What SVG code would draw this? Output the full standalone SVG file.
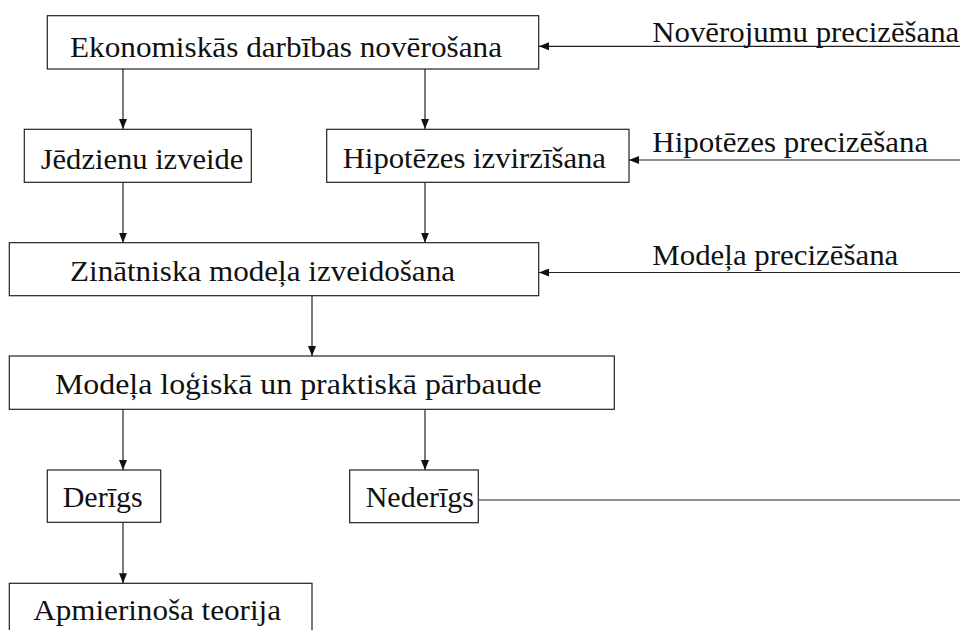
<svg xmlns="http://www.w3.org/2000/svg" width="960" height="630" viewBox="0 0 960 630" font-family="Liberation Serif, serif">
<style>
.box{fill:#fff;stroke:#222;stroke-width:1.2}
.c{fill:none;stroke:#222;stroke-width:1.2}
</style>
<defs>
<marker id="ah" viewBox="0 0 10 8" refX="10" refY="4" markerWidth="10" markerHeight="8" markerUnits="userSpaceOnUse" orient="auto">
<path d="M0,0 L10,4 L0,8 z" fill="#111"/>
</marker>
</defs>
<rect width="960" height="630" fill="#fff"/>
<g id="connectors">
<line class="c" x1="123" y1="69" x2="123" y2="129" marker-end="url(#ah)"/>
<line class="c" x1="425" y1="69" x2="425" y2="129" marker-end="url(#ah)"/>
<line class="c" x1="960" y1="46.3" x2="539" y2="46.3" marker-end="url(#ah)"/>
<line class="c" x1="123" y1="182.3" x2="123" y2="242.7" marker-end="url(#ah)"/>
<line class="c" x1="425" y1="182.3" x2="425" y2="242.7" marker-end="url(#ah)"/>
<line class="c" x1="960" y1="160" x2="629" y2="160" marker-end="url(#ah)"/>
<line class="c" x1="960" y1="272.5" x2="539" y2="272.5" marker-end="url(#ah)"/>
<line class="c" x1="312" y1="295.7" x2="312" y2="356" marker-end="url(#ah)"/>
<line class="c" x1="123" y1="409.3" x2="123" y2="470" marker-end="url(#ah)"/>
<line class="c" x1="425" y1="409.3" x2="425" y2="470" marker-end="url(#ah)"/>
<line class="c" x1="123" y1="522.3" x2="123" y2="583.3" marker-end="url(#ah)"/>
<line class="c" x1="478.3" y1="500" x2="960" y2="500"/>
<text font-family="Liberation Serif, serif" font-size="30" fill="#111" x="652.3" y="41.7" textLength="307" lengthAdjust="spacingAndGlyphs">Novērojumu precizēšana</text>
<text font-family="Liberation Serif, serif" font-size="30" fill="#111" x="652.3" y="152.3" textLength="276" lengthAdjust="spacingAndGlyphs">Hipotēzes precizēšana</text>
<text font-family="Liberation Serif, serif" font-size="30" fill="#111" x="652.3" y="265" textLength="246" lengthAdjust="spacingAndGlyphs">Modeļa precizēšana</text>
</g>
<g id="n1"><rect class="box" x="47.3" y="15.7" width="491.4" height="53.3"/><text font-family="Liberation Serif, serif" font-size="30" fill="#111" x="70" y="57.3" textLength="432" lengthAdjust="spacingAndGlyphs">Ekonomiskās darbības novērošana</text></g>
<g id="n2"><rect class="box" x="24.3" y="129.3" width="227" height="53"/><text font-family="Liberation Serif, serif" font-size="30" fill="#111" x="40.7" y="169" textLength="202.6" lengthAdjust="spacingAndGlyphs">Jēdzienu izveide</text></g>
<g id="n3"><rect class="box" x="326.7" y="129.3" width="302.3" height="53"/><text font-family="Liberation Serif, serif" font-size="30" fill="#111" x="342.7" y="168" textLength="263.3" lengthAdjust="spacingAndGlyphs">Hipotēzes izvirzīšana</text></g>
<g id="n4"><rect class="box" x="9.3" y="242.7" width="529.4" height="53"/><text font-family="Liberation Serif, serif" font-size="30" fill="#111" x="70" y="281" textLength="385" lengthAdjust="spacingAndGlyphs">Zinātniska modeļa izveidošana</text></g>
<g id="n5"><rect class="box" x="9.3" y="356" width="605" height="53.3"/><text font-family="Liberation Serif, serif" font-size="30" fill="#111" x="55" y="394" textLength="486.7" lengthAdjust="spacingAndGlyphs">Modeļa loģiskā un praktiskā pārbaude</text></g>
<g id="n6"><rect class="box" x="47.3" y="470" width="113.4" height="52.3"/><text font-family="Liberation Serif, serif" font-size="30" fill="#111" x="62.7" y="507.3" textLength="80" lengthAdjust="spacingAndGlyphs">Derīgs</text></g>
<g id="n7"><rect class="box" x="349.7" y="470" width="128.6" height="52.7"/><text font-family="Liberation Serif, serif" font-size="30" fill="#111" x="365.7" y="507.3" textLength="108.3" lengthAdjust="spacingAndGlyphs">Nederīgs</text></g>
<g id="n8"><rect class="box" x="9.3" y="583.3" width="302.7" height="60"/><text font-family="Liberation Serif, serif" font-size="30" fill="#111" x="33.3" y="620" textLength="247.7" lengthAdjust="spacingAndGlyphs">Apmierinoša teorija</text></g>
</svg>
